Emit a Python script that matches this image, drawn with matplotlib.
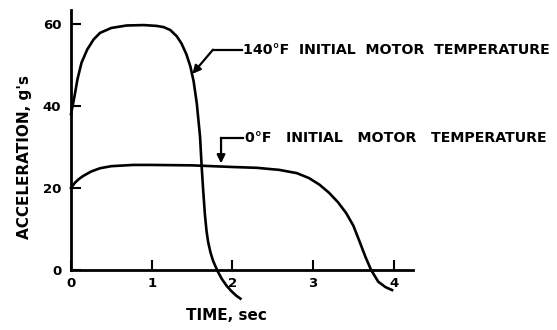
# Motor acceleration vs time for two initial motor temperatures
import matplotlib.pyplot as plt

# 140 F initial motor temperature
t_hot = [0.0, 0.04, 0.08, 0.13, 0.2, 0.28, 0.36, 0.5, 0.69, 0.9, 1.06, 1.15,
         1.23, 1.31, 1.37, 1.43, 1.48, 1.52, 1.56, 1.6, 1.62, 1.64, 1.66,
         1.68, 1.7, 1.73, 1.76, 1.79, 1.82, 1.87, 1.93, 1.99, 2.05, 2.1]
a_hot = [38, 42, 46.5, 50.5, 53.7, 56.2, 57.8, 59, 59.6, 59.7, 59.5, 59.2,
         58.5, 57.0, 55.2, 52.6, 49.6, 46.0, 40.5, 32.4, 25.1, 19, 13.5,
         9.5, 6.8, 4.2, 2.3, 0.9, -0.4, -2.2, -3.9, -5.2, -6.3, -7.0]

# 0 F initial motor temperature
t_cold = [0.0, 0.05, 0.1, 0.15, 0.25, 0.36, 0.5, 0.77, 1.0, 1.5, 2.0, 2.3,
          2.58, 2.8, 2.95, 3.08, 3.2, 3.31, 3.41, 3.5, 3.57, 3.65, 3.72,
          3.81, 3.9, 3.98]
a_cold = [20, 21.3, 22.2, 22.9, 24, 24.8, 25.3, 25.6, 25.6, 25.5, 25.1, 24.9,
          24.4, 23.6, 22.4, 20.8, 18.8, 16.5, 13.9, 10.8, 7.3, 3.2, 0,
          -2.9, -4.2, -4.9]

x_ticks = [0, 1, 2, 3, 4]
y_ticks = [0, 20, 40, 60]

fig = plt.figure(figsize=(5.57, 3.30), dpi=100)
ax = fig.add_axes([0.1275, 0.182, 0.614, 0.788])

lw = 1.9
ax.plot(t_hot, a_hot, color='black', lw=lw, clip_on=False)
ax.plot(t_cold, a_cold, color='black', lw=lw, clip_on=False)

ax.set_xlim(0, 4.24)
ax.set_ylim(0, 63.4)

for side in ['top', 'right']:
    ax.spines[side].set_visible(False)
for side in ['left', 'bottom']:
    ax.spines[side].set_linewidth(2)

ax.set_xticks(x_ticks)
ax.set_yticks(y_ticks)
ax.tick_params(direction='in', length=7, width=1.5, labelsize=9.5, pad=5)
ax.tick_params(axis='y', pad=7)
for lab in ax.get_xticklabels() + ax.get_yticklabels():
    lab.set_fontweight('bold')

ax.set_xlabel('TIME, sec', fontsize=11, fontweight='bold')
ax.xaxis.set_label_coords(0.455, -0.145)
ax.set_ylabel('ACCELERATION, g\'s', fontsize=11, fontweight='bold')
ax.yaxis.set_label_coords(-0.114, 0.435)

# callouts
ax.text(2.13, 53.7, '140\u00b0F  INITIAL  MOTOR  TEMPERATURE', fontsize=10.2,
        fontweight='bold', va='center', ha='left')
ax.plot([2.12, 1.76], [53.7, 53.7], color='black', lw=1.6)
ax.annotate('', xy=(1.505, 47.8), xytext=(1.76, 53.7),
            arrowprops=dict(arrowstyle='-|>', color='black', lw=1.6,
                            mutation_scale=12, shrinkA=0, shrinkB=0))

ax.text(2.16, 32.2, '0\u00b0F   INITIAL   MOTOR   TEMPERATURE', fontsize=10.2,
        fontweight='bold', va='center', ha='left')
ax.plot([2.13, 1.86], [32.2, 32.2], color='black', lw=1.6)
ax.annotate('', xy=(1.86, 26.0), xytext=(1.86, 32.2),
            arrowprops=dict(arrowstyle='-|>', color='black', lw=1.6,
                            mutation_scale=12, shrinkA=0, shrinkB=0))

plt.savefig('out.png', dpi=100)
